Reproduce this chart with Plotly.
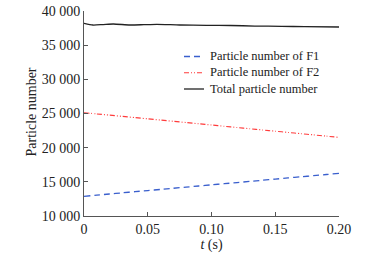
import plotly.graph_objects as go

t = [0, 0.01, 0.02, 0.03, 0.04, 0.05, 0.06, 0.07, 0.08, 0.09, 0.10,
     0.11, 0.12, 0.13, 0.14, 0.15, 0.16, 0.17, 0.18, 0.19, 0.20]
f1 = [12880, 13050, 13220, 13390, 13560, 13720, 13890, 14060, 14220, 14390, 14560,
      14730, 14890, 15060, 15230, 15400, 15570, 15740, 15900, 16070, 16240]
f2 = [25120, 24940, 24760, 24580, 24400, 24220, 24040, 23860, 23680, 23500, 23320,
      23130, 22950, 22770, 22590, 22410, 22230, 22050, 21870, 21690, 21510]

t_total = [0, 0.007, 0.015, 0.023, 0.036, 0.047, 0.057, 0.075, 0.096, 0.115,
           0.134, 0.155, 0.173, 0.20]
total = [38200, 37950, 38020, 38100, 37950, 38000, 38050, 37950, 37900, 37880,
         37800, 37760, 37700, 37660]

ytick_vals = [10000, 15000, 20000, 25000, 30000, 35000, 40000]
ytick_text = ["10 000", "15 000", "20 000", "25 000", "30 000", "35 000", "40 000"]
xtick_vals = [0, 0.05, 0.10, 0.15, 0.20]
xtick_text = ["0", "0.05", "0.10", "0.15", "0.20"]

legend_names = ["Particle number of F1", "Particle number of F2", "Total particle number"]
colors = ["#3a5fcd", "#ff3b3b", "#222222"]
dashes = ["6px,4px", "5px,2px,1px,2px,1px,2px", "solid"]
widths = [1.3, 1.1, 1.3]

font = "'Liberation Serif', 'Times New Roman', serif"

W, H = 379, 254
ML, MR, MT, MB = 84, 40, 11, 38

fig = go.Figure()
for xv, yv, nm, c, d, w in zip([t, t, t_total], [f1, f2, total], legend_names, colors, dashes, widths):
    fig.add_trace(go.Scatter(x=xv, y=yv, mode="lines", name=nm,
                             line=dict(color=c, width=w, dash=d, shape="spline", smoothing=0.6),
                             showlegend=False))

# compact legend drawn in paper coordinates
pw, ph = W - ML - MR, H - MT - MB
def px2paper(xp, yp):
    return (xp - ML) / pw, 1 - (yp - MT) / ph

LFS = 12.5
row_gap = LFS * 1.3
rows = [72.75 - row_gap, 72.75, 72.75 + row_gap]
for i, (c, d, w) in enumerate(zip(colors, dashes, widths)):
    x0, y0 = px2paper(184, rows[i])
    x1, _ = px2paper(204, rows[i])
    fig.add_shape(type="line", xref="paper", yref="paper", x0=x0, x1=x1, y0=y0, y1=y0,
                  line=dict(color=c, width=w, dash=d))
xt, ym = px2paper(209, rows[1])
fig.add_annotation(xref="paper", yref="paper", x=xt, y=ym, text="<br>".join(legend_names),
                   showarrow=False, align="left", xanchor="left", yanchor="middle",
                   borderpad=0, font=dict(size=LFS, family=font, color="#222"))

# y-axis title placed precisely
yt_x, yt_y = px2paper(30.5, 112)
fig.add_annotation(xref="paper", yref="paper", x=yt_x, y=yt_y, text="Particle number",
                   textangle=-90, showarrow=False, xanchor="center", yanchor="middle",
                   borderpad=0, font=dict(size=14, family=font, color="#222"))

fig.update_layout(
    template="none",
    width=W, height=H,
    margin=dict(l=ML, r=MR, t=MT, b=MB),
    paper_bgcolor="white", plot_bgcolor="white",
    font=dict(family=font, size=14, color="#222"),
    showlegend=False,
    xaxis=dict(range=[0, 0.20], tickvals=xtick_vals, ticktext=xtick_text, automargin=False,
               showgrid=False, zeroline=False, showline=True, linecolor="#555",
               linewidth=1, ticks="inside", ticklen=4, tickcolor="#555",
               tickfont=dict(size=14, family=font),
               title=dict(text="<i>t</i> (s)", standoff=0, font=dict(size=14, family=font))),
    yaxis=dict(range=[10000, 40000], tickvals=ytick_vals, ticktext=ytick_text, automargin=False,
               showgrid=False, zeroline=False, showline=True, linecolor="#555",
               linewidth=1, ticks="inside", ticklen=4, tickcolor="#555",
               tickfont=dict(size=14, family=font)),
)

fig.write_html("out.html", config={"displayModeBar": False},
               post_script="document.body.style.margin='0';")
